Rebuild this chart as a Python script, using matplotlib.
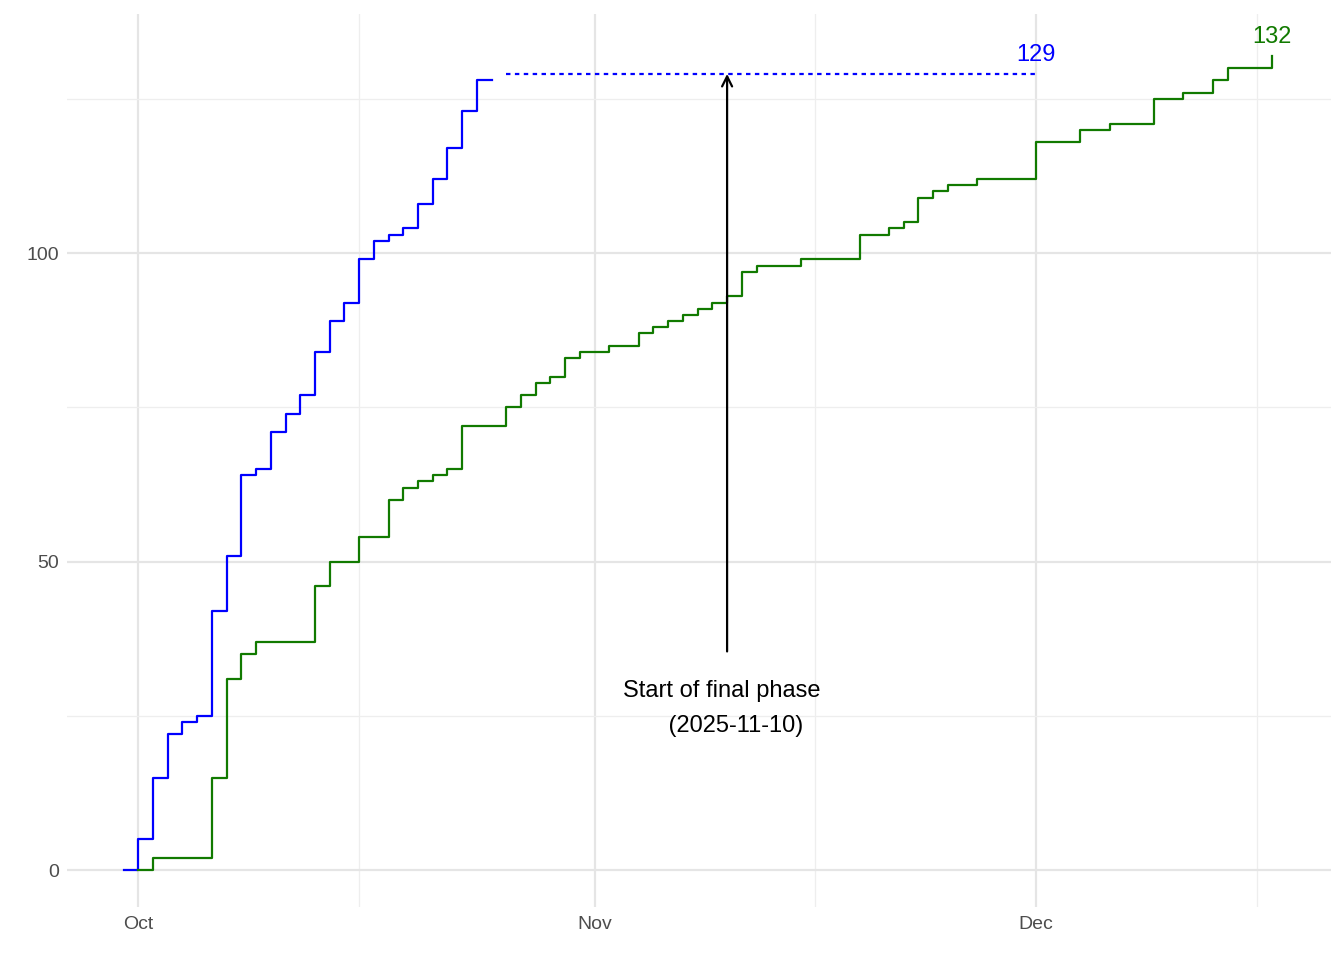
import matplotlib
matplotlib.use("Agg")
import matplotlib.pyplot as plt
import pandas as pd

plt.rcParams['font.family'] = ['Liberation Sans', 'DejaVu Sans']

blue_dates = ["2025-09-30","2025-10-01","2025-10-02","2025-10-03","2025-10-04","2025-10-05","2025-10-06",
              "2025-10-07","2025-10-08","2025-10-09","2025-10-10","2025-10-11","2025-10-12","2025-10-13",
              "2025-10-14","2025-10-15","2025-10-16","2025-10-17","2025-10-18","2025-10-19","2025-10-20",
              "2025-10-21","2025-10-22","2025-10-23","2025-10-24","2025-10-25"]
blue_vals = [0,5,15,22,24,25,42,51,64,65,71,74,77,84,89,92,99,102,103,104,108,112,117,123,128,128]
blue_proj_dates = ["2025-10-26","2025-12-01"]
blue_proj_vals = [129,129]

green_dates = ["2025-10-01","2025-10-02","2025-10-06","2025-10-07","2025-10-08","2025-10-09","2025-10-13",
               "2025-10-14","2025-10-16","2025-10-18","2025-10-19","2025-10-20","2025-10-21","2025-10-22",
               "2025-10-23","2025-10-26","2025-10-27","2025-10-28","2025-10-29","2025-10-30","2025-10-31",
               "2025-11-02","2025-11-04","2025-11-05","2025-11-06","2025-11-07","2025-11-08","2025-11-09",
               "2025-11-10","2025-11-11","2025-11-12","2025-11-15","2025-11-19","2025-11-21","2025-11-22",
               "2025-11-23","2025-11-24","2025-11-25","2025-11-27","2025-12-01","2025-12-04","2025-12-06",
               "2025-12-09","2025-12-11","2025-12-13","2025-12-14","2025-12-17"]
green_vals = [0,2,15,31,35,37,46,50,54,60,62,63,64,65,72,75,77,79,80,83,84,85,87,88,89,90,91,92,93,97,98,99,
              103,104,105,109,110,111,112,118,120,121,125,126,128,130,132]

fig = plt.figure(figsize=(13.44, 9.6), dpi=100)
ax = fig.add_axes([0.05, 0.055, 0.94, 0.93])
bd = pd.to_datetime(blue_dates); gd = pd.to_datetime(green_dates)
ax.step(bd, blue_vals, where="post", color="blue", lw=1.6)
ax.plot(pd.to_datetime(blue_proj_dates), blue_proj_vals, color="blue", lw=1.6, ls=(0, (2, 2)))
ax.step(gd, green_vals, where="post", color="#117a00", lw=1.6)
ax.text(pd.Timestamp("2025-12-01"), 130.3, "129", color="blue", fontsize=17, ha="center", va="bottom")
ax.text(pd.Timestamp("2025-12-17"), 133.2, "132", color="#117a00", fontsize=17, ha="center", va="bottom")
ax.annotate("", xy=(pd.Timestamp("2025-11-10"), 129.5), xytext=(pd.Timestamp("2025-11-10"), 35),
            arrowprops=dict(arrowstyle="->", color="black", lw=1.6, mutation_scale=18))
ax.text(pd.Timestamp("2025-11-09 16:00"), 30.8, "Start of final phase\n    (2025-11-10)", fontsize=17,
        ha="center", va="top", linespacing=1.75)

ax.set_xlim(pd.Timestamp("2025-09-26 04:00"), pd.Timestamp("2025-12-21 00:00"))
ax.set_ylim(-6, 138.7)
ax.set_xticks(pd.to_datetime(["2025-10-01","2025-11-01","2025-12-01"]))
ax.set_xticklabels(["Oct","Nov","Dec"])
ax.set_xticks(pd.to_datetime(["2025-10-16","2025-11-16","2025-12-16"]), minor=True)
ax.set_yticks([0,50,100]); ax.set_yticks([25,75,125], minor=True)
ax.grid(True, which="major", color="#e5e5e5", lw=1.6)
ax.grid(True, which="minor", color="#eeeeee", lw=0.9)
ax.set_axisbelow(True)
for s in ax.spines.values(): s.set_visible(False)
ax.tick_params(which="both", length=0, labelsize=14, colors="#4d4d4d", pad=6)
fig.savefig("out.png", dpi=100)
